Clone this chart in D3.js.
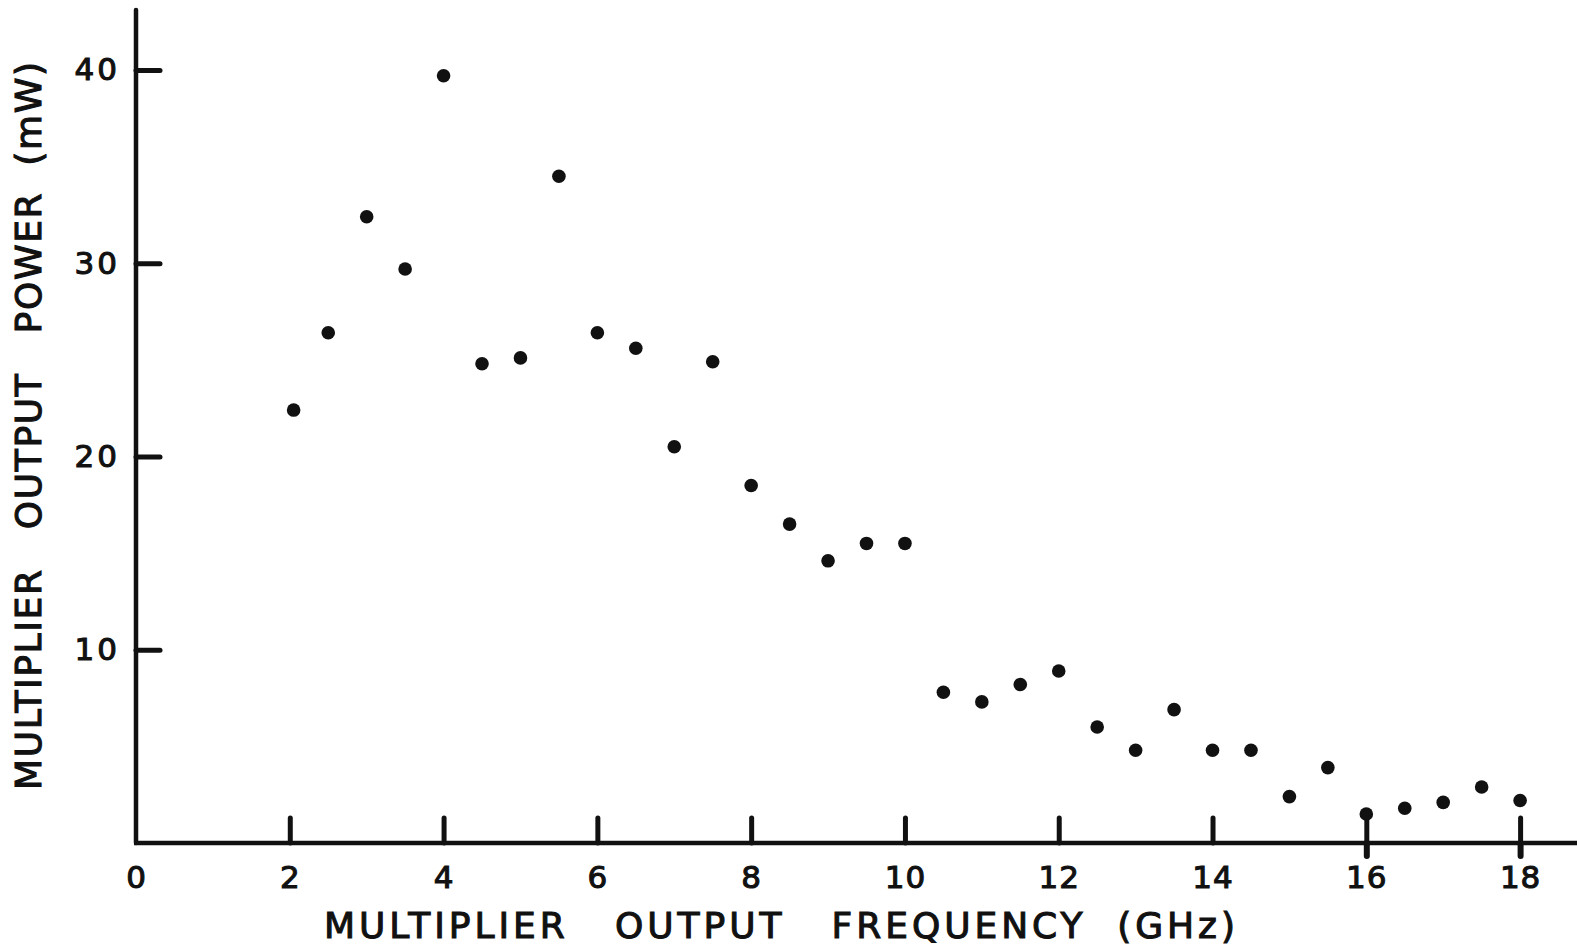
<!DOCTYPE html>
<html><head><meta charset="utf-8">
<script src="https://cdn.jsdelivr.net/npm/d3@7"></script>
<style>
html,body{margin:0;padding:0;background:#fff;}
svg{display:block;}
text{font-family:"DejaVu Sans",sans-serif;fill:#111;stroke:#111;stroke-width:1.1px;}
</style></head>
<body>
<svg id="chart" width="1577" height="950"></svg>
<script>
// Data
const frequencies = [2.05,2.5,3.0,3.5,4.0,4.5,5.0,5.5,6.0,6.5,7.0,7.5,8.0,8.5,9.0,9.5,10.0,10.5,11.0,11.5,12.0,12.5,13.0,13.5,14.0,14.5,15.0,15.5,16.0,16.5,17.0,17.5,18.0];
const powers = [22.4,26.4,32.4,29.7,39.7,24.8,25.1,34.5,26.4,25.6,20.5,24.9,18.5,16.5,14.6,15.5,15.5,7.8,7.3,8.2,8.9,6.0,4.8,6.9,4.8,4.8,2.4,3.9,1.5,1.8,2.1,2.9,2.2];
const xTickValues = [0,2,4,6,8,10,12,14,16,18];
const xTickLabels = ["0","2","4","6","8","10","12","14","16","18"];
const yTickValues = [10,20,30,40];
const yTickLabels = ["10","20","30","40"];
const crossTicks = [16,18];
const xTitle = "MULTIPLIER   OUTPUT   FREQUENCY  (GHz)";
const yTitle = "MULTIPLIER   OUTPUT   POWER  (mW)";

const svg = d3.select("#chart");
const x = d3.scaleLinear().domain([0, 18.74]).range([136, 1577]);
const y = d3.scaleLinear().domain([0, 43.1]).range([843, 10]);

// X axis
const xAxis = d3.axisBottom(x)
  .tickValues(xTickValues)
  .tickFormat((d,i)=>xTickLabels[i])
  .tickSizeInner(-25).tickSizeOuter(0).tickPadding(16);
const gx = svg.append("g").attr("transform",`translate(0,${y(0)})`).call(xAxis);
gx.select(".domain").remove();
gx.selectAll(".tick line").attr("stroke","#111").attr("stroke-width",5).attr("stroke-linecap","round")
  .filter(d=>d===0).remove();
gx.selectAll(".tick text").attr("font-size",31).attr("dy","0.95em").attr("letter-spacing","1px").style("fill","#111");
gx.selectAll(".tick").filter(d=>crossTicks.includes(d)).append("line")
  .attr("y1",0).attr("y2",13).attr("stroke","#111").attr("stroke-width",6).attr("stroke-linecap","round");

// Y axis
const yAxis = d3.axisLeft(y)
  .tickValues(yTickValues)
  .tickFormat((d,i)=>yTickLabels[i])
  .tickSizeInner(-24).tickSizeOuter(0).tickPadding(16);
const gy = svg.append("g").attr("transform",`translate(${x(0)},0)`).call(yAxis);
gy.select(".domain").remove();
gy.selectAll(".tick line").attr("stroke","#111").attr("stroke-width",5).attr("stroke-linecap","round");
gy.selectAll(".tick text").attr("font-size",31).attr("letter-spacing","3px").style("fill","#111");

// Axis lines
svg.append("line").attr("x1",x(0)).attr("x2",x(0)).attr("y1",y(43.1)).attr("y2",y(0))
  .attr("stroke","#111").attr("stroke-width",4.5).attr("stroke-linecap","round");
svg.append("line").attr("x1",x(0)-2).attr("x2",x(18.74)).attr("y1",y(0)).attr("y2",y(0))
  .attr("stroke","#111").attr("stroke-width",4.5);

// Points
svg.append("g").selectAll("circle").data(frequencies).join("circle")
  .attr("cx",(d)=>x(d)).attr("cy",(d,i)=>y(powers[i])).attr("r",6.8).attr("fill","#111");

// Titles
svg.append("text").attr("x",324).attr("y",938)
  .attr("font-size",36).attr("textLength",911).attr("lengthAdjust","spacing")
  .style("white-space","pre").text(xTitle);
svg.append("text").attr("transform","translate(41,790) rotate(-90)")
  .attr("font-size",36).attr("textLength",728).attr("lengthAdjust","spacing")
  .style("white-space","pre").text(yTitle);
</script>
</body></html>
